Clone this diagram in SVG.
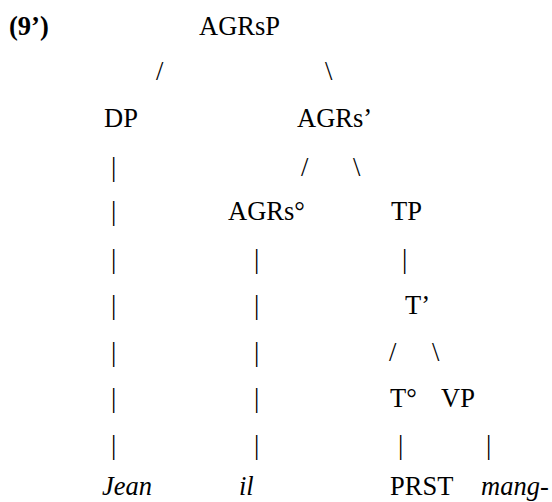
<svg xmlns="http://www.w3.org/2000/svg" width="552" height="502" viewBox="0 0 552 502" font-family="Liberation Serif, Times New Roman, serif" font-size="26.5">
  <style>
    .b { font-weight: bold; }
    .i { font-style: italic; }
    .e { fill: #000; }
  </style>
  <rect width="552" height="502" fill="#fff"/>

  <!-- example number -->
  <text class="b" x="9" y="35">(9’)</text>

  <!-- nodes -->
  <g id="agrsp"><text x="199" y="35">AGRsP</text></g>
  <g id="dp"><text x="104" y="127">DP</text></g>
  <g id="agrs-bar"><text x="297" y="127">AGRs’</text></g>
  <g id="agrs-head"><text x="228" y="220">AGRs°</text></g>
  <g id="tp"><text x="391" y="220">TP</text></g>
  <g id="t-bar"><text x="405" y="314">T’</text></g>
  <g id="t-head"><text x="390" y="407">T°</text></g>
  <g id="vp"><text x="441" y="407">VP</text></g>
  <g id="jean"><text class="i" x="102" y="495">Jean</text></g>
  <g id="il"><text class="i" x="239" y="495">il</text></g>
  <g id="prst"><text x="390" y="495">PRST</text></g>
  <g id="mang"><text class="i" x="481" y="495">mang-</text></g>

  <!-- branches, typed as characters -->
  <g id="connectors">
    <text class="e" x="156" y="80">/</text>
    <text class="e" x="325" y="80">\</text>

    <text class="e" x="111" y="176">|</text>
    <text class="e" x="301" y="176">/</text>
    <text class="e" x="353" y="176">\</text>

    <text class="e" x="111" y="220">|</text>

    <text class="e" x="111" y="268">|</text>
    <text class="e" x="254" y="268">|</text>
    <text class="e" x="402" y="268">|</text>

    <text class="e" x="111" y="314">|</text>
    <text class="e" x="254" y="314">|</text>

    <text class="e" x="111" y="361">|</text>
    <text class="e" x="254" y="361">|</text>
    <text class="e" x="389" y="361">/</text>
    <text class="e" x="432" y="361">\</text>

    <text class="e" x="111" y="407">|</text>
    <text class="e" x="254" y="407">|</text>

    <text class="e" x="111" y="454">|</text>
    <text class="e" x="254" y="454">|</text>
    <text class="e" x="398" y="454">|</text>
    <text class="e" x="486" y="454">|</text>
  </g>
</svg>
